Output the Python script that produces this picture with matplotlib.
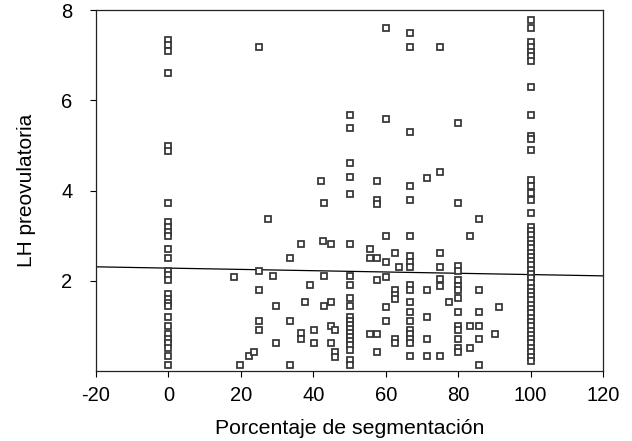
import numpy as np
import matplotlib.pyplot as plt

plt.rcParams['font.family'] = ['Liberation Sans', 'DejaVu Sans']
plt.rcParams['axes.unicode_minus'] = False

# porcentaje de segmentacion (x) and LH preovulatoria (y), grouped by column
x0 = [0] * 28
y0 = [7.34, 7.23, 7.10, 6.60, 4.99, 4.88, 3.72, 3.30, 3.20, 3.09, 2.99, 2.70,
      2.51, 2.22, 2.13, 2.02, 1.71, 1.60, 1.51, 1.43, 1.19, 1.00, 0.82, 0.72,
      0.63, 0.50, 0.33, 0.13]

x_low = [18.0, 19.9, 22.2, 23.6, 25, 25, 25, 25, 25, 27.4, 28.9, 29.6, 29.6,
         33.5, 33.5, 33.5, 36.5, 36.5, 36.5, 37.8, 39.2, 40.1, 40.1]
y_low = [2.09, 0.13, 0.33, 0.41, 7.18, 2.22, 1.80, 1.11, 0.91, 3.37, 2.11, 1.43, 0.61,
         2.51, 1.11, 0.13, 2.81, 0.84, 0.70, 1.52, 1.91, 0.91, 0.61]

x_mid = [42.0, 42.9, 42.7, 44.8, 42.9, 44.8, 42.9, 44.8, 45.9, 44.8, 45.9, 45.9]
y_mid = [4.21, 3.72, 2.89, 2.81, 2.11, 1.52, 1.43, 1.00, 0.91, 0.61, 0.43, 0.32]

x50 = [50] * 21
y50 = [5.68, 5.39, 4.61, 4.29, 3.92, 2.81, 2.11, 1.91, 1.61, 1.43, 1.20, 1.11,
       1.02, 0.93, 0.84, 0.75, 0.66, 0.57, 0.47, 0.24, 0.13]

x55 = [55.6, 55.6, 57.5, 57.5, 57.5, 57.5, 57.5, 55.6, 57.5, 57.5]
y55 = [2.70, 2.50, 2.50, 4.21, 3.79, 3.70, 2.02, 0.81, 0.81, 0.41]

x60 = [60, 60, 60, 60, 60, 60, 60, 62.7, 62.7, 62.7, 62.7, 62.7, 62.7, 63.6]
y60 = [7.60, 5.58, 3.00, 2.42, 2.09, 1.41, 1.11, 2.61, 1.80, 1.69, 1.59, 0.70, 0.61, 2.31]

x67 = [66.7] * 19
y67 = [7.49, 7.19, 5.29, 4.09, 3.78, 3.00, 2.55, 2.42, 2.31, 1.91, 1.80, 1.52,
       1.30, 1.11, 0.91, 0.81, 0.70, 0.61, 0.33]

x71 = [71.4, 71.4, 71.4, 71.4, 71.4, 75, 75, 75, 75, 75, 75, 75, 77.4]
y71 = [4.27, 1.80, 1.19, 0.70, 0.33, 7.19, 4.40, 2.61, 2.31, 2.03, 1.88, 0.33, 1.52]

x80 = [80] * 14 + [83.4, 83.4, 83.4]
y80 = [5.49, 3.72, 2.33, 2.22, 2.02, 1.88, 1.80, 1.61, 1.30, 1.00, 0.91, 0.70,
       0.50, 0.41, 3.00, 1.00, 0.50]

x86 = [85.7] * 6 + [90.3, 91.3]
y86 = [3.37, 1.80, 1.30, 1.00, 0.70, 0.13, 0.81, 1.41]

x100 = [100] * 49
y100 = [7.78, 7.60, 7.30, 7.19, 7.08, 6.97, 6.88, 6.29, 5.68, 5.21, 5.14, 4.90,
        4.24, 4.09, 3.94, 3.79, 3.50, 3.20, 3.10, 3.01, 2.91, 2.82, 2.72, 2.62,
        2.53, 2.43, 2.34, 2.24, 2.14, 2.05, 1.95, 1.85, 1.76, 1.66, 1.57, 1.47,
        1.37, 1.28, 1.18, 1.09, 0.99, 0.89, 0.80, 0.70, 0.61, 0.51, 0.41, 0.32, 0.22]

x = np.array(x0 + x_low + x_mid + x50 + x55 + x60 + x67 + x71 + x80 + x86 + x100)
y = np.array(y0 + y_low + y_mid + y50 + y55 + y60 + y67 + y71 + y80 + y86 + y100)

# fitted line
b0 = 2.28
b1 = -0.00143

fig = plt.figure(figsize=(6.32, 4.41), dpi=100)
ax = fig.add_axes([96 / 632, 1 - 371 / 441, 507 / 632, 361 / 441])

ax.plot(x, y, 's', ms=3.8, mfc='white', mec='#333333', mew=1.25, zorder=3)
xl = np.array([-20, 120])
ax.plot(xl, b0 + b1 * xl, color='black', lw=0.9, zorder=2)

ax.set_xlim(-20, 120)
ax.set_ylim(0, 8)
ax.set_xticks([-20, 0, 20, 40, 60, 80, 100, 120])
ax.set_yticks([2, 4, 6, 8])
ax.tick_params(axis='x', labelsize=14.5, length=4, width=0.8, pad=7)
ax.tick_params(axis='y', labelsize=14.5, length=4, width=0.8, pad=13)
for s in ax.spines.values():
    s.set_color('#222222')
    s.set_linewidth(0.9)

ax.set_xlabel('Porcentaje de segmentación', fontsize=15.3, labelpad=10)
ax.set_ylabel('LH preovulatoria', fontsize=15, labelpad=18)

fig.savefig('out.png', dpi=100)
